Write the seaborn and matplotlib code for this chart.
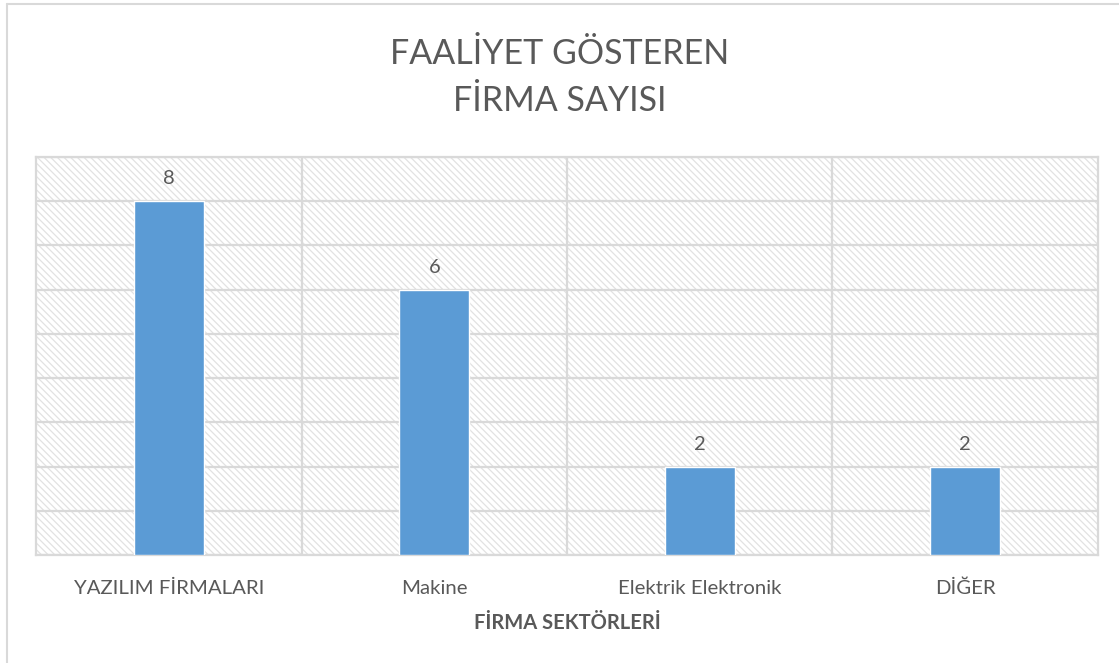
import numpy as np
import pandas as pd
import matplotlib
matplotlib.use("Agg")
import matplotlib.pyplot as plt
import seaborn as sns
from matplotlib.patches import Rectangle
from matplotlib.lines import Line2D

sektorler = ["YAZILIM FİRMALARI", "Makine", "Elektrik Elektronik", "DİĞER"]
firma_sayisi = [8, 6, 2, 2]

df = pd.DataFrame({"Sektor": sektorler, "Sayi": firma_sayisi})

sns.set_theme(style="white")
plt.rcParams['font.family'] = ['Lato', 'DejaVu Sans']
plt.rcParams['hatch.color'] = '#e2e2e2'
plt.rcParams['hatch.linewidth'] = 0.9

fig = plt.figure(figsize=(11.19, 6.63), dpi=100)
ax = fig.add_axes([0.0322, 0.1629, 0.9490, 0.6003])

# hatched plot background
ax.add_patch(Rectangle((0, 0), 1, 1, transform=ax.transAxes, facecolor='white',
                       edgecolor='#e2e2e2', hatch='\\\\\\\\\\', linewidth=0, zorder=0))

bar_ax = sns.barplot(data=df, x="Sektor", y="Sayi", color="#5b9bd5", width=0.265,
                     saturation=1, ax=ax, zorder=3)
for bars in bar_ax.containers:
    bar_ax.bar_label(bars, padding=10, fontsize=14.5, color='#595959')

ax.set_ylim(0, 9)
ax.set_xlim(-0.5, 3.5)
ax.set_yticks(range(0, 10))
ax.set_yticklabels([])
ax.set_xticks([0.5, 1.5, 2.5], minor=True)
ax.grid(True, axis='y', color='#d9d9d9', linewidth=1.6, zorder=1)
ax.grid(True, axis='x', which='minor', color='#d9d9d9', linewidth=1.6, zorder=1)
ax.set_axisbelow(True)
for s in ax.spines.values():
    s.set_color('#d9d9d9')
    s.set_linewidth(1.6)
ax.tick_params(axis='both', length=0)
ax.tick_params(axis='x', which='major', pad=18, labelsize=14.7, labelcolor='#595959')
ax.set_ylabel("")
ax.set_xlabel("FİRMA SEKTÖRLERİ", fontsize=14.5, fontweight='bold', color='#595959', labelpad=11)

fig.suptitle("FAALİYET GÖSTEREN\nFİRMA SAYISI", y=0.943, fontsize=24.5, color='#595959',
             linespacing=1.6)

# outer chart frame
fig.add_artist(Line2D([0.0065, 0.0065], [0, 0.994], transform=fig.transFigure, color='#d9d9d9', lw=1.5))
fig.add_artist(Line2D([0.0065, 1.0], [0.994, 0.994], transform=fig.transFigure, color='#d9d9d9', lw=1.5))

plt.savefig("out.png", dpi=100)
